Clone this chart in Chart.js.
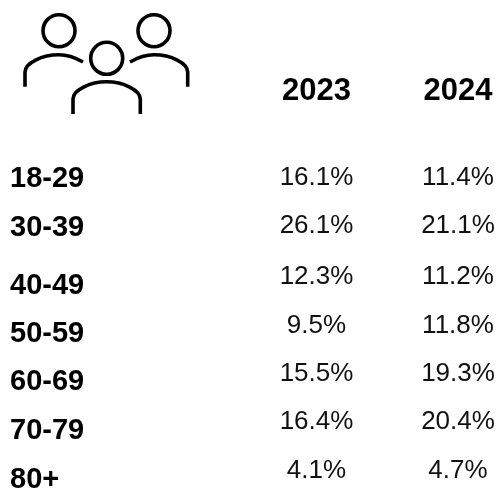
<!DOCTYPE html>
<html>
<head>
<meta charset="utf-8">
<style>
  html, body { margin: 0; padding: 0; background: #fff; }
  canvas { display: block; }
</style>
<script src="https://cdn.jsdelivr.net/npm/chart.js@4"></script>
</head>
<body>
<canvas id="ageChart" width="496" height="489"></canvas>
<script>
const years = ['2023', '2024'];
const ageGroups = ['18-29', '30-39', '40-49', '50-59', '60-69', '70-79', '80+'];
const share2023 = [16.1, 26.1, 12.3, 9.5, 15.5, 16.4, 4.1];
const share2024 = [11.4, 21.1, 11.2, 11.8, 19.3, 20.4, 4.7];

// the rows of the source table are not evenly spaced, and the age labels sit lower than the numbers
const valueRows = [0, 0.98, 2.03, 3.02, 4.02, 5, 6];
const ageRows = [0.02, 1.02, 2.21, 3.2, 4.18, 5.18, 6.19];

const fontFamily = '"Liberation Sans", Arial, sans-serif';

const toPoints = (year, shares) =>
  shares.map((share, i) => ({ x: year, y: valueRows[i], share }));

// three people, drawn by hand since there is no such mark in the library
const peopleIcon = {
  id: 'peopleIcon',
  afterDraw(chart) {
    const ctx = chart.ctx;
    ctx.save();
    ctx.strokeStyle = '#000';
    ctx.lineWidth = 3.6;
    ctx.lineCap = 'butt';
    [[59, 30.7], [154, 30.7], [106.7, 58.3]].forEach(([x, y]) => {
      ctx.beginPath();
      ctx.arc(x, y, 16, 0, Math.PI * 2);
      ctx.stroke();
    });
    ctx.beginPath();
    ctx.moveTo(25, 86.7);
    ctx.lineTo(25, 72);
    ctx.bezierCurveTo(25, 63, 42, 54.8, 59, 54.8);
    ctx.bezierCurveTo(68, 54.8, 76, 58, 83, 62);
    ctx.stroke();
    ctx.beginPath();
    ctx.moveTo(187.7, 86.7);
    ctx.lineTo(187.7, 72);
    ctx.bezierCurveTo(187.7, 63, 171, 54.8, 154, 54.8);
    ctx.bezierCurveTo(145, 54.8, 137, 58, 130, 62);
    ctx.stroke();
    ctx.beginPath();
    ctx.moveTo(73, 114);
    ctx.lineTo(73, 99);
    ctx.bezierCurveTo(73, 90, 90, 81.8, 106.7, 81.8);
    ctx.bezierCurveTo(123, 81.8, 140.3, 90, 140.3, 99);
    ctx.lineTo(140.3, 114);
    ctx.stroke();
    ctx.restore();
  },
};

// the numbers are the only visible thing at each point
const shareLabels = {
  id: 'shareLabels',
  afterDatasetsDraw(chart) {
    const ctx = chart.ctx;
    ctx.save();
    ctx.fillStyle = '#111';
    ctx.font = '26px ' + fontFamily;
    ctx.textAlign = 'center';
    ctx.textBaseline = 'middle';
    chart.data.datasets.forEach((dataset, d) => {
      chart.getDatasetMeta(d).data.forEach((point, i) => {
        ctx.fillText(dataset.data[i].share.toFixed(1) + '%', point.x, point.y);
      });
    });
    ctx.restore();
  },
};

new Chart(document.getElementById('ageChart'), {
  type: 'line',
  data: {
    labels: years,
    datasets: [
      { label: '2023', data: toPoints('2023', share2023), showLine: false, pointRadius: 0 },
      { label: '2024', data: toPoints('2024', share2024), showLine: false, pointRadius: 0 },
    ],
  },
  options: {
    responsive: false,
    animation: false,
    layout: { padding: { left: 10, right: 38, top: 0, bottom: 3.6 } },
    plugins: { legend: { display: false }, title: { display: false }, tooltip: { enabled: false } },
    scales: {
      x: {
        type: 'category',
        position: 'top',
        offset: false,
        grid: { display: false, drawTicks: false },
        border: { display: false },
        ticks: {
          color: '#000',
          padding: 44,
          maxRotation: 0,
          autoSkip: false,
          font: { family: fontFamily, size: 31, weight: 'bold' },
        },
        afterFit: (scale) => {
          scale.height = 153.6;
          scale.paddingLeft = 0;
          scale.paddingRight = 0;
        },
      },
      y: {
        type: 'linear',
        reverse: true,
        min: -0.5,
        max: 6.3,
        grid: { display: false, drawTicks: false },
        border: { display: false },
        afterBuildTicks: (scale) => { scale.ticks = ageRows.map((value) => ({ value })); },
        afterFit: (scale) => {
          scale.width = 306.5;
          scale.paddingTop = 0;
          scale.paddingBottom = 0;
        },
        ticks: {
          color: '#000',
          crossAlign: 'far',
          autoSkip: false,
          font: { family: fontFamily, size: 29, weight: 'bold' },
          callback: (value, i) => ageGroups[i],
        },
      },
    },
  },
  plugins: [peopleIcon, shareLabels],
});
</script>
</body>
</html>
